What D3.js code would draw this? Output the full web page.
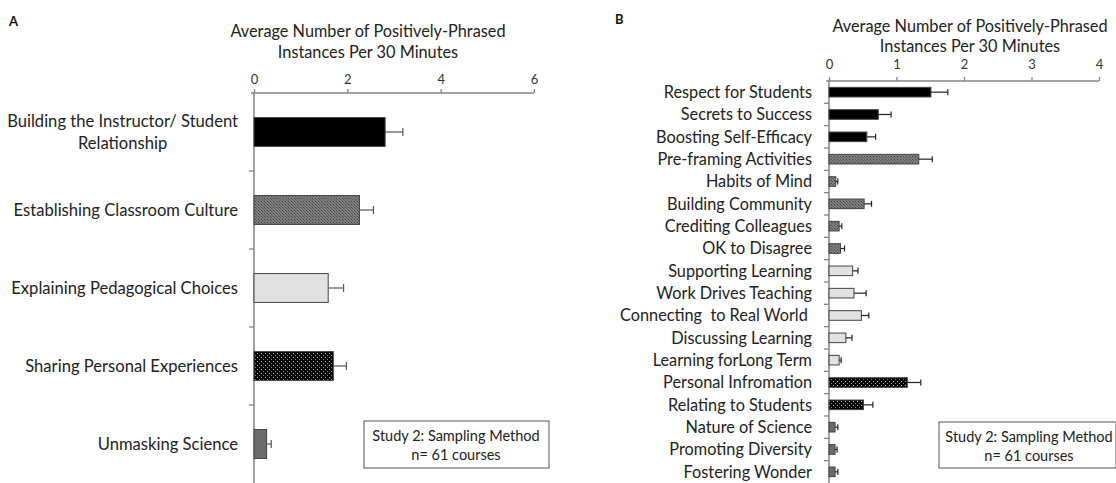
<!DOCTYPE html>
<html>
<head>
<meta charset="utf-8">
<script src="https://cdn.jsdelivr.net/npm/d3@7"></script>
<style>
  body { margin: 0; background: #fff; }
  svg { display: block; font-family: Lato, "Open Sans", sans-serif; }
  svg text { white-space: pre; }
</style>
</head>
<body>
<div id="app"></div>
<script>
// Panel A data
const catsA = [
  "Building the Instructor/ Student|Relationship",
  "Establishing Classroom Culture",
  "Explaining Pedagogical Choices",
  "Sharing Personal Experiences",
  "Unmasking Science"
];
const valuesA = [2.81, 2.26, 1.59, 1.70, 0.27];
const errorsA = [0.38, 0.30, 0.33, 0.28, 0.10];
const groupA = [0, 1, 2, 3, 4];
const ticksA = [0, 2, 4, 6];

// Panel B data
const catsB = [
  "Respect for Students", "Secrets to Success", "Boosting Self-Efficacy",
  "Pre-framing Activities", "Habits of Mind", "Building Community",
  "Crediting Colleagues", "OK to Disagree", "Supporting Learning",
  "Work Drives Teaching", "Connecting  to Real World ", "Discussing Learning",
  "Learning forLong Term", "Personal Infromation", "Relating to Students",
  "Nature of Science", "Promoting Diversity", "Fostering Wonder"
];
const valuesB = [1.51, 0.73, 0.56, 1.33, 0.10, 0.52, 0.15, 0.17, 0.35,
                 0.37, 0.48, 0.25, 0.15, 1.16, 0.51, 0.09, 0.09, 0.09];
const errorsB = [0.25, 0.19, 0.13, 0.20, 0.03, 0.11, 0.04, 0.06, 0.08,
                 0.18, 0.11, 0.09, 0.03, 0.20, 0.14, 0.04, 0.03, 0.04];
const groupB = [0, 0, 0, 1, 1, 1, 1, 1, 2, 2, 2, 2, 2, 3, 3, 4, 4, 4];
const ticksB = [0, 1, 2, 3, 4];

const axisTitle = ["Average Number of Positively-Phrased", "Instances Per 30 Minutes"];
const noteLines = ["Study 2: Sampling Method", "n= 61 courses"];

const width = 1116, height = 483;
const axisColor = "#858585";

const svg = d3.select("#app").append("svg")
  .attr("width", width).attr("height", height);

// fill patterns
const defs = svg.append("defs");
const hatch = defs.append("pattern").attr("id", "hatch")
  .attr("patternUnits", "userSpaceOnUse").attr("width", 3).attr("height", 3);
hatch.append("rect").attr("width", 3).attr("height", 3).attr("fill", "#808080");
hatch.append("rect").attr("width", 1).attr("height", 1).attr("fill", "#444");
hatch.append("rect").attr("x", 1).attr("y", 1).attr("width", 1).attr("height", 1).attr("fill", "#555");
hatch.append("rect").attr("x", 2).attr("y", 2).attr("width", 1).attr("height", 1).attr("fill", "#666");

const dots = defs.append("pattern").attr("id", "dots")
  .attr("patternUnits", "userSpaceOnUse").attr("width", 4).attr("height", 4);
dots.append("rect").attr("width", 4).attr("height", 4).attr("fill", "#000");
dots.append("rect").attr("x", 1).attr("y", 1).attr("width", 1).attr("height", 1).attr("fill", "#bbb");
dots.append("rect").attr("x", 3).attr("y", 3).attr("width", 1).attr("height", 1).attr("fill", "#888");

const fills = ["#000", "url(#hatch)", "#e1e1e1", "url(#dots)", "#6b6b6b"];

const drawPanel = (cfg) => {
  const g = svg.append("g");
  const x = d3.scaleLinear().domain(cfg.domain).range(cfg.xRange);
  const y = d3.scaleBand().domain(cfg.cats).range(cfg.yRange)
    .paddingInner(cfg.pad).paddingOuter(cfg.pad / 2);

  // top axis
  const xAxis = g.append("g")
    .attr("transform", `translate(0,${cfg.yRange[0]})`)
    .call(d3.axisTop(x).tickValues(cfg.ticks).tickFormat(d3.format("d"))
      .tickSizeInner(4).tickSizeOuter(0).tickPadding(cfg.tickPad));
  xAxis.select(".domain").attr("stroke", axisColor).attr("stroke-width", 1.5)
    .attr("d", `M${cfg.xRange[0] - 3},0H${cfg.xRange[1]}`);
  xAxis.selectAll(".tick line").attr("stroke", axisColor).attr("stroke-width", 1.3);
  xAxis.selectAll(".tick text").attr("fill", "#333")
    .style("font-size", cfg.tickFont).style("font-family", "Lato");

  // axis title
  g.append("text")
    .attr("x", cfg.titleX).attr("y", cfg.titleY)
    .attr("text-anchor", "middle").attr("fill", "#222")
    .style("font-size", "16.3px")
    .selectAll("tspan").data(axisTitle).join("tspan")
    .attr("x", cfg.titleX).attr("dy", (d, i) => i ? cfg.titleGap : 0)
    .text(d => d);

  // left axis line + boundary ticks
  const step = y.step();
  g.append("line")
    .attr("x1", x(0)).attr("x2", x(0))
    .attr("y1", cfg.yRange[0]).attr("y2", height)
    .attr("stroke", axisColor).attr("stroke-width", 1.5);
  g.selectAll(".ytick").data(cfg.cats.slice(1)).join("line")
    .attr("class", "ytick")
    .attr("x1", x(0) - 5).attr("x2", x(0))
    .attr("y1", d => y(d) - step * cfg.pad / 2)
    .attr("y2", d => y(d) - step * cfg.pad / 2)
    .attr("stroke", axisColor).attr("stroke-width", 1.3);

  // bars
  g.selectAll(".bar").data(cfg.cats).join("rect")
    .attr("class", "bar")
    .attr("x", x(0))
    .attr("y", d => y(d))
    .attr("width", (d, i) => x(cfg.values[i]) - x(0))
    .attr("height", y.bandwidth())
    .attr("fill", (d, i) => fills[cfg.groups[i]])
    .attr("stroke", "#444").attr("stroke-width", 1);

  // error bars
  const eb = g.selectAll(".err").data(cfg.cats).join("g").attr("class", "err")
    .attr("transform", d => `translate(0,${y(d) + y.bandwidth() / 2})`);
  eb.append("line")
    .attr("x1", (d, i) => x(cfg.values[i]))
    .attr("x2", (d, i) => x(cfg.values[i] + cfg.errors[i]))
    .attr("stroke", cfg.errColor).attr("stroke-width", 1.2);
  eb.append("line")
    .attr("x1", (d, i) => x(cfg.values[i] + cfg.errors[i]))
    .attr("x2", (d, i) => x(cfg.values[i] + cfg.errors[i]))
    .attr("y1", -cfg.cap).attr("y2", cfg.cap)
    .attr("stroke", cfg.errColor).attr("stroke-width", 1.2);

  // category labels (right aligned, extra lines centred under first)
  g.selectAll(".lab").data(cfg.cats).join("g").attr("class", "lab")
    .each(function (d) {
      const lines = d.split("|");
      const cy = y(d) + y.bandwidth() / 2;
      const lh = cfg.labLine;
      const top = cy - (lines.length - 1) * lh / 2;
      const first = d3.select(this).append("text")
        .attr("x", cfg.labelX).attr("y", top).attr("dy", "0.35em")
        .attr("text-anchor", "end").attr("fill", "#222")
        .style("font-size", cfg.labFont).text(lines[0]);
      const w = first.node().getComputedTextLength();
      lines.slice(1).forEach((t, k) => {
        d3.select(this).append("text")
          .attr("x", cfg.labelX - w / 2).attr("y", top + (k + 1) * lh).attr("dy", "0.35em")
          .attr("text-anchor", "middle").attr("fill", "#222")
          .style("font-size", cfg.labFont).text(t);
      });
    });

  // note box
  const nb = g.append("g");
  nb.append("rect")
    .attr("x", cfg.box[0]).attr("y", cfg.box[1])
    .attr("width", cfg.box[2]).attr("height", cfg.box[3])
    .attr("fill", "#fff").attr("stroke", "#555").attr("stroke-width", 1);
  nb.selectAll("text").data(noteLines).join("text")
    .attr("x", cfg.box[4])
    .attr("y", (d, i) => cfg.box[1] + 15 + i * 19).attr("dy", "0.35em")
    .attr("text-anchor", "middle").attr("fill", "#222")
    .style("font-size", "14.5px").text(d => d);

  // panel letter
  g.append("text").attr("x", cfg.letter[1]).attr("y", cfg.letter[2])
    .style("font-size", "13px").style("font-weight", 700).attr("fill", "#111")
    .text(cfg.letter[0]);
};

drawPanel({
  cats: catsA, values: valuesA, errors: errorsA, groups: groupA, ticks: ticksA,
  domain: [0, 6], xRange: [254, 534], yRange: [93, 483], pad: 0.63,
  tickPad: 5, tickFont: "13px", titleX: 368, titleY: 37, titleGap: 21,
  errColor: "#555", cap: 4,
  labelX: 238, labFont: "16.6px", labLine: 22,
  box: [364, 421, 185, 47, 456], letter: ["A", 9, 26]
});

drawPanel({
  cats: catsB, values: valuesB, errors: errorsB, groups: groupB, ticks: ticksB,
  domain: [0, 4], xRange: [829, 1099], yRange: [81, 483], pad: 0.57,
  tickPad: 8, tickFont: "13px", titleX: 970, titleY: 32, titleGap: 20,
  errColor: "#222", cap: 3,
  labelX: 812, labFont: "16.3px", labLine: 20,
  box: [939, 422, 177, 46, 1029], letter: ["B", 615, 24]
});
</script>
</body>
</html>
